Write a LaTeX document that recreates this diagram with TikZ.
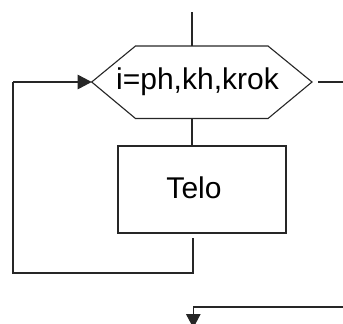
\documentclass[tikz,border=0pt]{standalone}
\usepackage{fontspec}
\setmainfont{Liberation Sans}
\usetikzlibrary{arrows.meta}
\begin{document}
\begin{tikzpicture}[x=1pt,y=-1pt,
  ln/.style={line width=1.1pt,draw=black!85},
  arr/.style={ln,-{Triangle[length=14pt,width=14.5pt]}},
  lbl/.style={inner sep=0pt,font=\fontsize{30}{35}\selectfont}]
\useasboundingbox (0,0) rectangle (343,324);
% hexagon corners
\coordinate (hl) at (91.7,82);
\coordinate (htl) at (135.5,46);
\coordinate (htr) at (268,46);
\coordinate (hr) at (312,82);
\coordinate (hbr) at (268,118.5);
\coordinate (hbl) at (135.5,118.5);
\draw[ln] (hl) -- (htl) -- (htr) -- (hr) -- (hbr) -- (hbl) -- cycle;
\node[lbl] (hex) at (197.5,82) {i=ph,kh,krok};
% body
\node[ln,draw,rectangle,minimum width=168pt,minimum height=87pt,inner sep=0pt] (body) at (202,189.5) {};
\node[lbl] (telo) at (194,188) {Telo};
% connector coordinates
\coordinate (top) at (192,12);
\coordinate (htop) at (192,46);
\coordinate (hbot) at (192,118.5);
\coordinate (bbot) at (193,238);
\coordinate (lc1) at (193,273);
\coordinate (lc2) at (13,273);
\coordinate (lc3) at (13,82);
\coordinate (rs) at (318,82);
\coordinate (re) at (343,82);
\coordinate (bs) at (343,307);
\coordinate (bc) at (193.3,307);
\coordinate (be) at (193.3,328);
\draw[ln] (top) -- (htop);
\draw[ln] (hbot) -- (body.north -| hbot);
\draw[ln] (bbot) -- (lc1) -- (lc2) -- (lc3);
\draw[arr] (lc3) -- (hl);
\draw[ln] (rs) -- (re);
\draw[arr] (bs) -- (bc) -- (be);
\end{tikzpicture}
\end{document}
